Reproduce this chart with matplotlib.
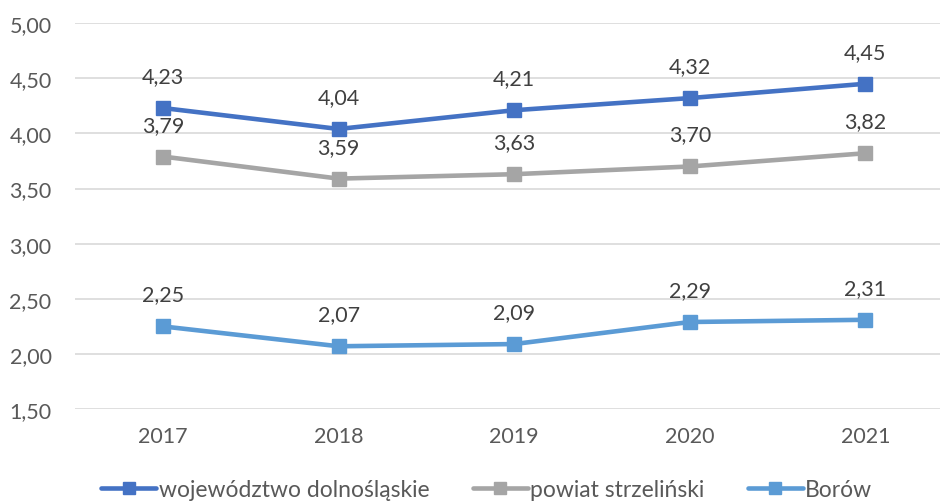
import matplotlib.pyplot as plt

years = ["2017", "2018", "2019", "2020", "2021"]
wojewodztwo = [4.23, 4.04, 4.21, 4.32, 4.45]
powiat = [3.79, 3.59, 3.63, 3.70, 3.82]
borow = [2.25, 2.07, 2.09, 2.29, 2.31]

series = [
    ("województwo dolnośląskie", wojewodztwo, "#4472C4"),
    ("powiat strzeliński", powiat, "#A5A5A5"),
    ("Borów", borow, "#5B9BD5"),
]

plt.rcParams['font.family'] = ['Lato', 'DejaVu Sans']
fs = 15.5

fig = plt.figure(figsize=(9.4, 5.02), dpi=100)
ax = fig.add_axes([0.08, 0.183, 0.934, 0.769])

x = list(range(len(years)))
for name, vals, color in series:
    ax.plot(x, vals, color=color, lw=3.3, marker='s', ms=9.5,
            label=name, solid_capstyle='round')
    for xi, v in zip(x, vals):
        ax.annotate(f"{v:.2f}".replace('.', ','), (xi, v),
                    xytext=(0, 23), textcoords='offset points',
                    ha='center', va='center', fontsize=fs, color='#404040')

ax.set_xlim(-0.5, len(years) - 0.5)
ax.set_ylim(1.5, 5.0)
ax.set_yticks([1.5 + 0.5 * i for i in range(8)])
ax.set_yticklabels([f"{1.5 + 0.5 * i:.2f}".replace('.', ',') for i in range(8)])
ax.set_xticks(x)
ax.set_xticklabels(years)
ax.tick_params(axis='both', length=0, labelsize=fs, labelcolor='#595959')
ax.tick_params(axis='y', pad=17)
ax.tick_params(axis='x', pad=12)
ax.grid(axis='y', color='#D9D9D9', lw=1.2)
ax.set_axisbelow(True)
for s in ax.spines.values():
    s.set_visible(False)

fig.legend(loc='center', bbox_to_anchor=(0.518, 0.022), ncol=3, frameon=False,
           fontsize=16.5, handlelength=2.4, handletextpad=0.1,
           columnspacing=1.9, labelcolor='#595959', markerscale=0.9)

fig.savefig("out.png", dpi=100)
